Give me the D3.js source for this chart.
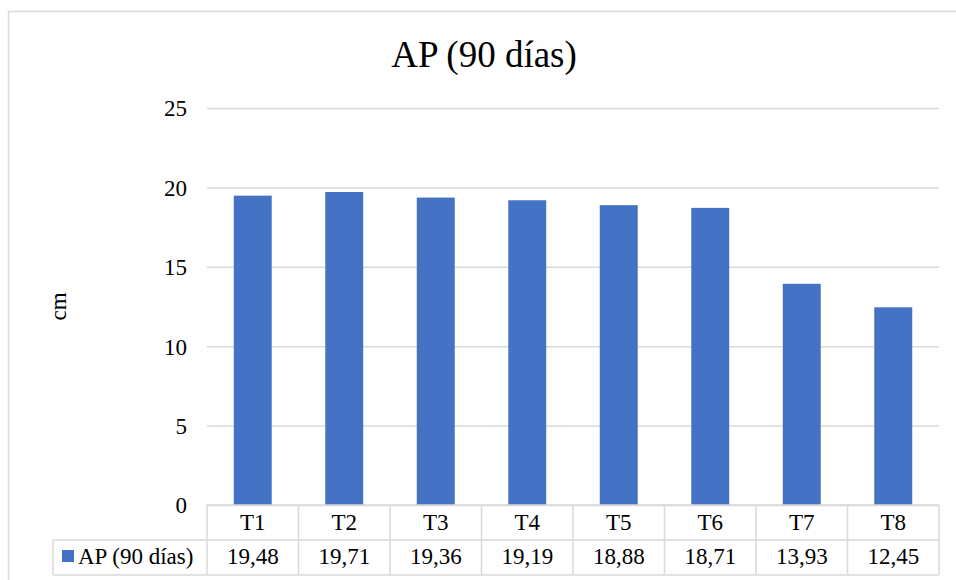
<!DOCTYPE html>
<html>
<head>
<meta charset="utf-8">
<script src="https://cdn.jsdelivr.net/npm/d3@7"></script>
<style>
  html, body { margin: 0; padding: 0; background: #fff; }
  svg { display: block; }
  text { font-family: "Liberation Serif", "Times New Roman", serif; fill: #000; }
</style>
</head>
<body>
<svg id="chart" width="956" height="580"></svg>
<script>
// Plant height at 90 days, by treatment
const categories = ["T1", "T2", "T3", "T4", "T5", "T6", "T7", "T8"];
const values = [19.48, 19.71, 19.36, 19.19, 18.88, 18.71, 13.93, 12.45];
const yTicks = [0, 5, 10, 15, 20, 25];
const seriesName = "AP (90 días)";
const chartTitle = "AP (90 días)";
const yLabel = "cm";

const svg = d3.select("#chart");
const gridColor = "#d9d9d9";
const barColor = "#4472c4";

const plot = { left: 207, right: 939, top: 108, bottom: 505 };
const rowH = 35;
const legendLeft = 53;

// Outer chart frame (extends past the visible window on the right and bottom)
svg.append("rect")
  .attr("x", 8.5).attr("y", 11.5)
  .attr("width", 958).attr("height", 600)
  .attr("fill", "#fff")
  .attr("stroke", gridColor).attr("stroke-width", 1.5);

const x = d3.scaleBand()
  .domain(categories)
  .range([plot.left, plot.right])
  .paddingInner(0.585)
  .paddingOuter(0.2925);

const xCols = d3.scaleBand()
  .domain(categories)
  .range([plot.left, plot.right]);

const y = d3.scaleLinear()
  .domain([0, 25])
  .range([plot.bottom, plot.top]);

// Horizontal gridlines and tick labels
const yAxis = d3.axisLeft(y)
  .tickValues(yTicks)
  .tickSize(-(plot.right - plot.left))
  .tickPadding(20)
  .tickFormat(d3.format("d"));

const gy = svg.append("g")
  .attr("transform", `translate(${plot.left},0)`)
  .call(yAxis)
  .attr("font-family", null)
  .attr("font-size", null);
gy.select(".domain").remove();
gy.selectAll(".tick line").attr("stroke", gridColor).attr("stroke-width", 1.5);
gy.selectAll(".tick text")
  .attr("font-size", 23)
  .attr("fill", "#000")
  .attr("dy", "0.34em");

// Bars
svg.append("g")
  .selectAll("rect")
  .data(values)
  .join("rect")
  .attr("x", (d, i) => x(categories[i]))
  .attr("y", d => y(d))
  .attr("width", x.bandwidth())
  .attr("height", d => y(0) - y(d))
  .attr("fill", barColor);

// Data table beneath the plot
const table = svg.append("g")
  .attr("stroke", gridColor).attr("stroke-width", 1.5).attr("fill", "none");

// horizontal rules
table.append("line")
  .attr("x1", plot.left).attr("x2", plot.right)
  .attr("y1", plot.bottom).attr("y2", plot.bottom);
table.append("line")
  .attr("x1", legendLeft).attr("x2", plot.right)
  .attr("y1", plot.bottom + rowH).attr("y2", plot.bottom + rowH);
table.append("line")
  .attr("x1", legendLeft).attr("x2", plot.right)
  .attr("y1", plot.bottom + 2 * rowH).attr("y2", plot.bottom + 2 * rowH);

// vertical rules
const colEdges = categories.map(c => xCols(c)).concat([plot.right]);
table.selectAll("line.v")
  .data(colEdges)
  .join("line")
  .attr("class", "v")
  .attr("x1", d => d).attr("x2", d => d)
  .attr("y1", plot.bottom).attr("y2", plot.bottom + 2 * rowH);
table.append("line")
  .attr("x1", legendLeft).attr("x2", legendLeft)
  .attr("y1", plot.bottom + rowH).attr("y2", plot.bottom + 2 * rowH);

// category row
svg.append("g")
  .selectAll("text")
  .data(categories)
  .join("text")
  .attr("x", d => xCols(d) + xCols.bandwidth() / 2)
  .attr("y", plot.bottom + 25)
  .attr("text-anchor", "middle")
  .attr("font-size", 23)
  .text(d => d);

// value row
const fmt = v => d3.format(".2f")(v).replace(".", ",");
svg.append("g")
  .selectAll("text")
  .data(values)
  .join("text")
  .attr("x", (d, i) => xCols(categories[i]) + xCols.bandwidth() / 2)
  .attr("y", plot.bottom + rowH + 24)
  .attr("text-anchor", "middle")
  .attr("font-size", 23)
  .text(d => fmt(d));

// legend key inside the table
svg.append("rect")
  .attr("x", 62).attr("y", 550)
  .attr("width", 12).attr("height", 12)
  .attr("fill", barColor);
svg.append("text")
  .attr("x", 78).attr("y", plot.bottom + rowH + 24)
  .attr("font-size", 23)
  .text(seriesName);

// Title
svg.append("text")
  .attr("x", 484).attr("y", 67)
  .attr("text-anchor", "middle")
  .attr("font-size", 37)
  .text(chartTitle);

// Y axis label
svg.append("text")
  .attr("transform", `translate(66, ${(plot.top + plot.bottom) / 2}) rotate(-90)`)
  .attr("text-anchor", "middle")
  .attr("font-size", 23)
  .text(yLabel);
</script>
</body>
</html>
